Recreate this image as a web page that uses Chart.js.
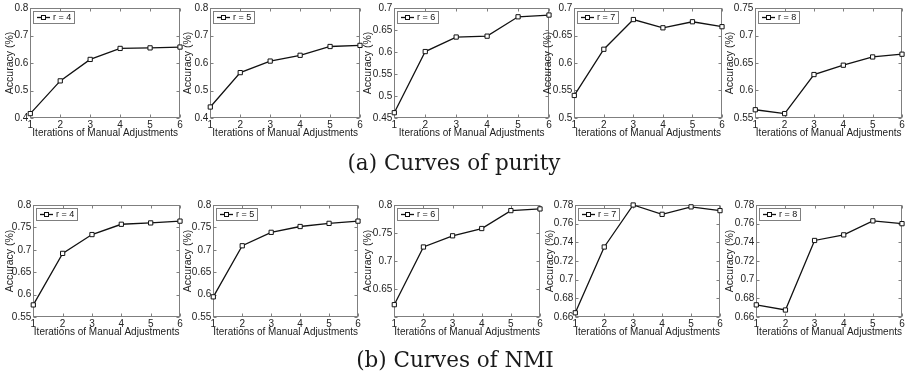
<!DOCTYPE html>
<html><head><meta charset="utf-8">
<script src="https://cdn.jsdelivr.net/npm/chart.js@4.4.1/dist/chart.umd.min.js"></script>
<style>
html,body{margin:0;padding:0;background:#fff;}
#wrap{position:relative;width:906px;height:379px;overflow:hidden;background:#fff;}
#wrap canvas{position:absolute;}
.cap{position:absolute;font-family:"DejaVu Serif",serif;font-size:21.5px;line-height:24px;color:#1a1a1a;white-space:nowrap;transform:translateX(-50%);}
</style></head><body><div id="wrap"></div>
<script>
// ---------- data ----------
const iterations = ['1','2','3','4','5','6'];
const seriesLabels = ['r = 4','r = 5','r = 6','r = 7','r = 8'];

const purityR4 = [0.416, 0.535, 0.613, 0.653, 0.655, 0.658];
const purityR5 = [0.440, 0.565, 0.607, 0.628, 0.660, 0.664];
const purityR6 = [0.462, 0.601, 0.634, 0.636, 0.680, 0.684];
const purityR7 = [0.541, 0.625, 0.679, 0.664, 0.675, 0.666];
const purityR8 = [0.565, 0.558, 0.629, 0.646, 0.661, 0.666];

const nmiR4 = [0.577, 0.692, 0.734, 0.757, 0.760, 0.764];
const nmiR5 = [0.595, 0.709, 0.739, 0.752, 0.759, 0.764];
const nmiR6 = [0.622, 0.725, 0.745, 0.758, 0.790, 0.793];
const nmiR7 = [0.6645, 0.735, 0.780, 0.770, 0.778, 0.774];
const nmiR8 = [0.673, 0.6675, 0.742, 0.748, 0.763, 0.760];

const purityYMin  = [0.4, 0.4, 0.45, 0.5, 0.55];
const purityYMax  = [0.8, 0.8, 0.7, 0.7, 0.75];
const purityYStep = [0.1, 0.1, 0.05, 0.05, 0.05];
const nmiYMin  = [0.55, 0.55, 0.6, 0.66, 0.66];
const nmiYMax  = [0.8, 0.8, 0.8, 0.78, 0.78];
const nmiYStep = [0.05, 0.05, 0.05, 0.02, 0.02];
const nmiHiddenTick = [null, null, 0.6, null, null];

const xTitle = 'Iterations of Manual Adjustments';
const yTitle = 'Accuracy (%)';
const captions = ['(a) Curves of purity', '(b) Curves of NMI'];

// ---------- layout ----------
const rows = [
  {T:3, B:118, L:[30,210,394,574,755], R:[180,360,549,722,902], tX:[10,188,368,548,730],
   series:[purityR4,purityR5,purityR6,purityR7,purityR8], ymin:purityYMin, ymax:purityYMax, ystep:purityYStep, hide:[null,null,null,null,null]},
  {T:203, B:317, L:[33,213,394,575,756], R:[180,358,540,720,902], tX:[10,188,368,550,730],
   series:[nmiR4,nmiR5,nmiR6,nmiR7,nmiR8], ymin:nmiYMin, ymax:nmiYMax, ystep:nmiYStep, hide:nmiHiddenTick}
];
const capPos = [{x:454, y:151}, {x:455, y:348}];

const FONT = '"Liberation Sans", Arial, sans-serif';
const BOX = '#7f7f7f';

const framePlugin = {
  id: 'frame',
  beforeDatasetsDraw(chart) {
    const {ctx, chartArea: a, scales} = chart;
    const l = Math.round(a.left) + 0.5, r = Math.round(a.right) - 0.5;
    const t = Math.round(a.top) + 0.5, b = Math.round(a.bottom) - 0.5;
    ctx.save();
    ctx.strokeStyle = BOX; ctx.lineWidth = 1;
    ctx.strokeRect(l, t, r - l, b - t);
    ctx.beginPath();
    scales.y.ticks.forEach(tk => {
      const y = Math.round(scales.y.getPixelForValue(tk.value)) + 0.5;
      ctx.moveTo(l, y); ctx.lineTo(l + 3, y);
      ctx.moveTo(r, y); ctx.lineTo(r - 3, y);
    });
    scales.x.ticks.forEach((tk, i) => {
      const x = Math.round(scales.x.getPixelForTick(i)) + 0.5;
      ctx.moveTo(x, b); ctx.lineTo(x, b - 3);
      ctx.moveTo(x, t); ctx.lineTo(x, t + 3);
    });
    ctx.stroke();
    ctx.restore();
  },
  afterDraw(chart) {
    const {ctx, chartArea: a} = chart;
    const ds = chart.data.datasets[0];
    const lx = Math.round(a.left) + 3, ly = Math.round(a.top) + 3, w = 41, h = 12;
    ctx.save();
    ctx.fillStyle = '#fff'; ctx.fillRect(lx, ly, w, h);
    ctx.strokeStyle = BOX; ctx.lineWidth = 1; ctx.strokeRect(lx + 0.5, ly + 0.5, w, h);
    const cy = ly + h / 2 + 0.5;
    ctx.strokeStyle = '#111'; ctx.lineWidth = 1.3;
    ctx.beginPath(); ctx.moveTo(lx + 4, cy); ctx.lineTo(lx + 17, cy); ctx.stroke();
    ctx.fillStyle = '#fff'; ctx.lineWidth = 1;
    ctx.fillRect(lx + 8.5, cy - 2, 4, 4); ctx.strokeRect(lx + 8.5, cy - 2, 4, 4);
    ctx.fillStyle = '#111'; ctx.font = '9px ' + FONT; ctx.textBaseline = 'middle'; ctx.textAlign = 'left';
    ctx.fillText(ds.label, lx + 20, cy);
    ctx.restore();
  }
};

const wrap = document.getElementById('wrap');
rows.forEach((row, ri) => {
  for (let p = 0; p < 5; p++) {
    const L = row.L[p], R = row.R[p];
    const yw = L - (row.tX[p] - 6.3);
    const topPad = Math.min(6, row.T);
    const rightPad = 5;
    const xh = 21;
    const cv = document.createElement('canvas');
    const cw = Math.round(R - L + yw + rightPad);
    const ch = Math.round(row.B - row.T + topPad + xh);
    cv.width = cw; cv.height = ch;
    cv.style.width = cw + 'px'; cv.style.height = ch + 'px';
    cv.style.left = Math.round(L - yw) + 'px';
    cv.style.top = (row.T - topPad) + 'px';
    wrap.appendChild(cv);
    const hideVal = row.hide[p];
    new Chart(cv, {
      type: 'line',
      data: {
        labels: iterations,
        datasets: [{
          label: seriesLabels[p],
          data: row.series[p],
          borderColor: '#111', borderWidth: 1.3,
          pointStyle: 'rect', pointRadius: 3, pointBorderWidth: 1,
          pointBackgroundColor: '#fff', pointBorderColor: '#111',
          tension: 0, clip: false
        }]
      },
      options: {
        responsive: false, animation: false, devicePixelRatio: 1,
        layout: {padding: {top: topPad, right: rightPad, left: 0, bottom: 0}},
        plugins: {legend: {display: false}, tooltip: {enabled: false}},
        scales: {
          x: {
            offset: false,
            grid: {display: false, drawTicks: false}, border: {display: false},
            ticks: {color: '#222', font: {family: FONT, size: 10}, padding: 1, maxRotation: 0, autoSkip: false},
            title: {display: true, text: xTitle, color: '#222', font: {family: FONT, size: 10}, padding: 0},
            afterFit(s) { s.height = xh; }
          },
          y: {
            min: row.ymin[p], max: row.ymax[p],
            grid: {display: false, drawTicks: false}, border: {display: false},
            ticks: {
              stepSize: row.ystep[p], color: '#222', font: {family: FONT, size: 10}, padding: 2,
              callback: v => (hideVal !== null && Math.abs(v - hideVal) < 1e-6) ? '' : String(Number(v.toFixed(2)))
            },
            title: {display: true, text: yTitle, color: '#222', font: {family: FONT, size: 10.5}, padding: 0},
            afterFit(s) { s.width = yw; }
          }
        }
      },
      plugins: [framePlugin]
    });
  }
});

captions.forEach((c, i) => {
  const d = document.createElement('div');
  d.className = 'cap';
  d.textContent = c;
  d.style.left = capPos[i].x + 'px';
  d.style.top = capPos[i].y + 'px';
  wrap.appendChild(d);
});
</script>
</body></html>
